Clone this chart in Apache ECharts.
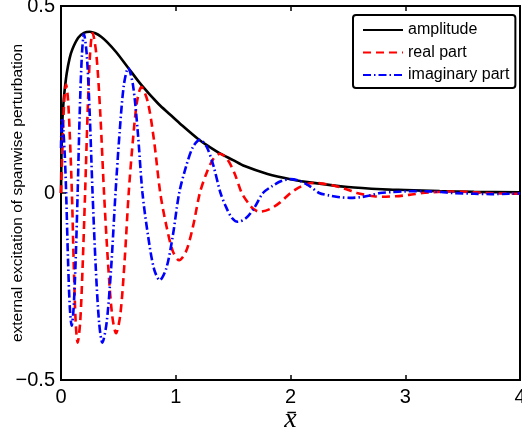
<!DOCTYPE html>
<html>
<head>
<meta charset="utf-8">
<script src="https://cdn.jsdelivr.net/npm/echarts@6/dist/echarts.min.js"></script>
<style>
  html, body { margin: 0; padding: 0; background: #fff; }
  #chart { width: 522px; height: 436px; }
</style>
</head>
<body>
<div id="chart"></div>
<script>
// Streamwise coordinate and the three response curves
const amplitudeX = [0, 0.005, 0.01, 0.02, 0.03, 0.05, 0.075, 0.1, 0.15, 0.2, 0.25, 0.3, 0.35, 0.4, 0.48, 0.58, 0.7, 0.85, 0.95, 1.05, 1.2, 1.3, 1.385, 1.5, 1.6, 1.8, 2.0, 2.2, 2.5, 2.8, 3.0, 3.3, 3.6, 4.0];
const amplitudeY = [0, 0.12, 0.18, 0.235, 0.27, 0.32, 0.36, 0.385, 0.415, 0.428, 0.431, 0.427, 0.418, 0.404, 0.377, 0.337, 0.289, 0.238, 0.21, 0.182, 0.143, 0.122, 0.106, 0.088, 0.072, 0.051, 0.037, 0.027, 0.016, 0.01, 0.008, 0.005, 0.003, 0.002];

const realX = [0, 0.015, 0.029, 0.044, 0.061, 0.078, 0.095, 0.112, 0.128, 0.145, 0.167, 0.188, 0.21, 0.232, 0.253, 0.275, 0.308, 0.342, 0.375, 0.41, 0.445, 0.48, 0.517, 0.553, 0.59, 0.627, 0.663, 0.70, 0.755, 0.81, 0.865, 0.92, 0.975, 1.03, 1.09, 1.15, 1.21, 1.268, 1.327, 1.385, 1.448, 1.512, 1.575, 1.627, 1.678, 1.73, 1.82, 1.91, 2.0, 2.067, 2.133, 2.2, 2.327, 2.453, 2.58, 2.653, 2.727, 2.8, 2.917, 3.033, 3.15, 3.23, 3.32, 3.4, 3.5, 3.6, 3.7, 3.85, 4.0];
const realY = [0, 0.145, 0.25, 0.29, 0.25, 0.145, 0, -0.2, -0.346, -0.4, -0.346, -0.2, 0, 0.214, 0.371, 0.428, 0.371, 0.214, 0, -0.188, -0.325, -0.375, -0.325, -0.188, 0, 0.142, 0.245, 0.283, 0.245, 0.142, 0, -0.09, -0.156, -0.18, -0.156, -0.09, 0, 0.053, 0.091, 0.105, 0.091, 0.053, 0, -0.025, -0.043, -0.05, -0.043, -0.025, 0, 0.0135, 0.023, 0.027, 0.023, 0.0135, 0, -0.005, -0.0087, -0.01, -0.0087, -0.005, 0, 0.002, 0.0035, 0.004, 0.0035, 0.002, 0, -0.0015, -0.002];

const imagX = [0, 0.008, 0.02, 0.033, 0.045, 0.061, 0.077, 0.093, 0.11, 0.128, 0.145, 0.163, 0.182, 0.2, 0.225, 0.25, 0.275, 0.303, 0.332, 0.36, 0.398, 0.437, 0.475, 0.512, 0.548, 0.585, 0.627, 0.668, 0.71, 0.76, 0.81, 0.86, 0.917, 0.973, 1.03, 1.09, 1.15, 1.21, 1.27, 1.33, 1.39, 1.44, 1.49, 1.54, 1.613, 1.687, 1.76, 1.84, 1.92, 2.0, 2.083, 2.167, 2.25, 2.34, 2.43, 2.52, 2.607, 2.693, 2.78, 2.887, 2.993, 3.1, 3.207, 3.313, 3.42, 3.6, 3.75, 3.9, 4.0];
const imagY = [0.12, 0.2, 0.17, 0.1, 0, -0.178, -0.307, -0.355, -0.307, -0.178, 0, 0.213, 0.368, 0.425, 0.368, 0.213, 0, -0.2, -0.346, -0.4, -0.346, -0.2, 0, 0.167, 0.289, 0.334, 0.289, 0.167, 0, -0.117, -0.202, -0.233, -0.202, -0.117, 0, 0.071, 0.123, 0.142, 0.123, 0.071, 0, -0.0385, -0.067, -0.077, -0.067, -0.0385, 0, 0.0185, 0.032, 0.037, 0.032, 0.0185, 0, -0.0065, -0.0113, -0.013, -0.0113, -0.0065, 0, 0.0025, 0.0043, 0.005, 0.0043, 0.0025, 0, -0.002, -0.003, -0.002, -0.001];

const seriesNames = ['amplitude', 'real part', 'imaginary part'];
const xTicks = [0, 1, 2, 3, 4];
const yTicks = [-0.5, 0, 0.5];

const pairs = (xs, ys) => xs.map((x, i) => [x, ys[i]]);
const sans = 'Liberation Sans, Arial, Helvetica, sans-serif';

const chart = echarts.init(document.getElementById('chart'), null, { renderer: 'canvas' });

const axisCommon = {
  axisLine: { show: false, onZero: false },
  splitLine: { show: false },
  axisTick: { inside: true, length: 5, lineStyle: { color: '#000', width: 1.5 } }
};

chart.setOption({
  animation: false,
  backgroundColor: '#fff',
  grid: {
    left: 61, right: 2, top: 6, bottom: 56,
    outerBoundsMode: 'none', containLabel: false,
    show: true, borderColor: '#000', borderWidth: 2, backgroundColor: 'transparent'
  },
  legend: {
    data: seriesNames,
    orient: 'vertical',
    left: 353, top: 15,
    itemWidth: 40, itemHeight: 14, itemGap: 6.5,
    padding: [7, 6, 5, 9],
    backgroundColor: '#fff',
    borderColor: '#000', borderWidth: 2, borderRadius: 3,
    itemStyle: { opacity: 0 },
    textStyle: { fontFamily: sans, fontSize: 16, color: '#000' }
  },
  xAxis: [
    Object.assign({}, axisCommon, {
      type: 'value', min: xTicks[0], max: xTicks[xTicks.length - 1], interval: 1,
      name: 'x\u0304', nameLocation: 'middle', nameGap: 26, nameMoveOverlap: false,
      nameTextStyle: { fontFamily: 'Liberation Serif, DejaVu Serif, serif', fontStyle: 'italic', fontSize: 28, color: '#000' },
      axisLabel: { fontFamily: sans, fontSize: 20, color: '#000', margin: 7 }
    }),
    Object.assign({}, axisCommon, {
      type: 'value', position: 'top', min: 0, max: 4, interval: 1,
      axisLabel: { show: false }
    })
  ],
  yAxis: [
    Object.assign({}, axisCommon, {
      type: 'value', min: yTicks[0], max: yTicks[yTicks.length - 1], interval: 0.5,
      name: 'external excitation of spanwise perturbation', nameLocation: 'middle', nameGap: 35, nameMoveOverlap: false,
      nameTextStyle: { fontFamily: sans, fontSize: 15.5, color: '#000' },
      axisLabel: {
        fontFamily: sans, fontSize: 20, color: '#000', margin: 6,
        formatter: v => (v < 0 ? '\u2212' + Math.abs(v) : String(v))
      }
    }),
    Object.assign({}, axisCommon, {
      type: 'value', position: 'right', min: -0.5, max: 0.5, interval: 0.5,
      axisLabel: { show: false }
    })
  ],
  series: [
    {
      name: seriesNames[1], type: 'line', data: pairs(realX, realY), smooth: 0.3,
      symbol: 'none', z: 3,
      lineStyle: { color: '#ff0000', width: 2.6, type: [8, 5] },
      itemStyle: { color: '#ff0000' }
    },
    {
      name: seriesNames[2], type: 'line', data: pairs(imagX, imagY), smooth: 0.3,
      symbol: 'none', z: 4,
      lineStyle: { color: '#0000ff', width: 2.6, type: [8, 3, 1.5, 3] },
      itemStyle: { color: '#0000ff' }
    },
    {
      name: seriesNames[0], type: 'line', data: pairs(amplitudeX, amplitudeY), smooth: 0.3,
      symbol: 'none', z: 2,
      lineStyle: { color: '#000', width: 2.6 },
      itemStyle: { color: '#000' }
    }
  ]
});
</script>
</body>
</html>
